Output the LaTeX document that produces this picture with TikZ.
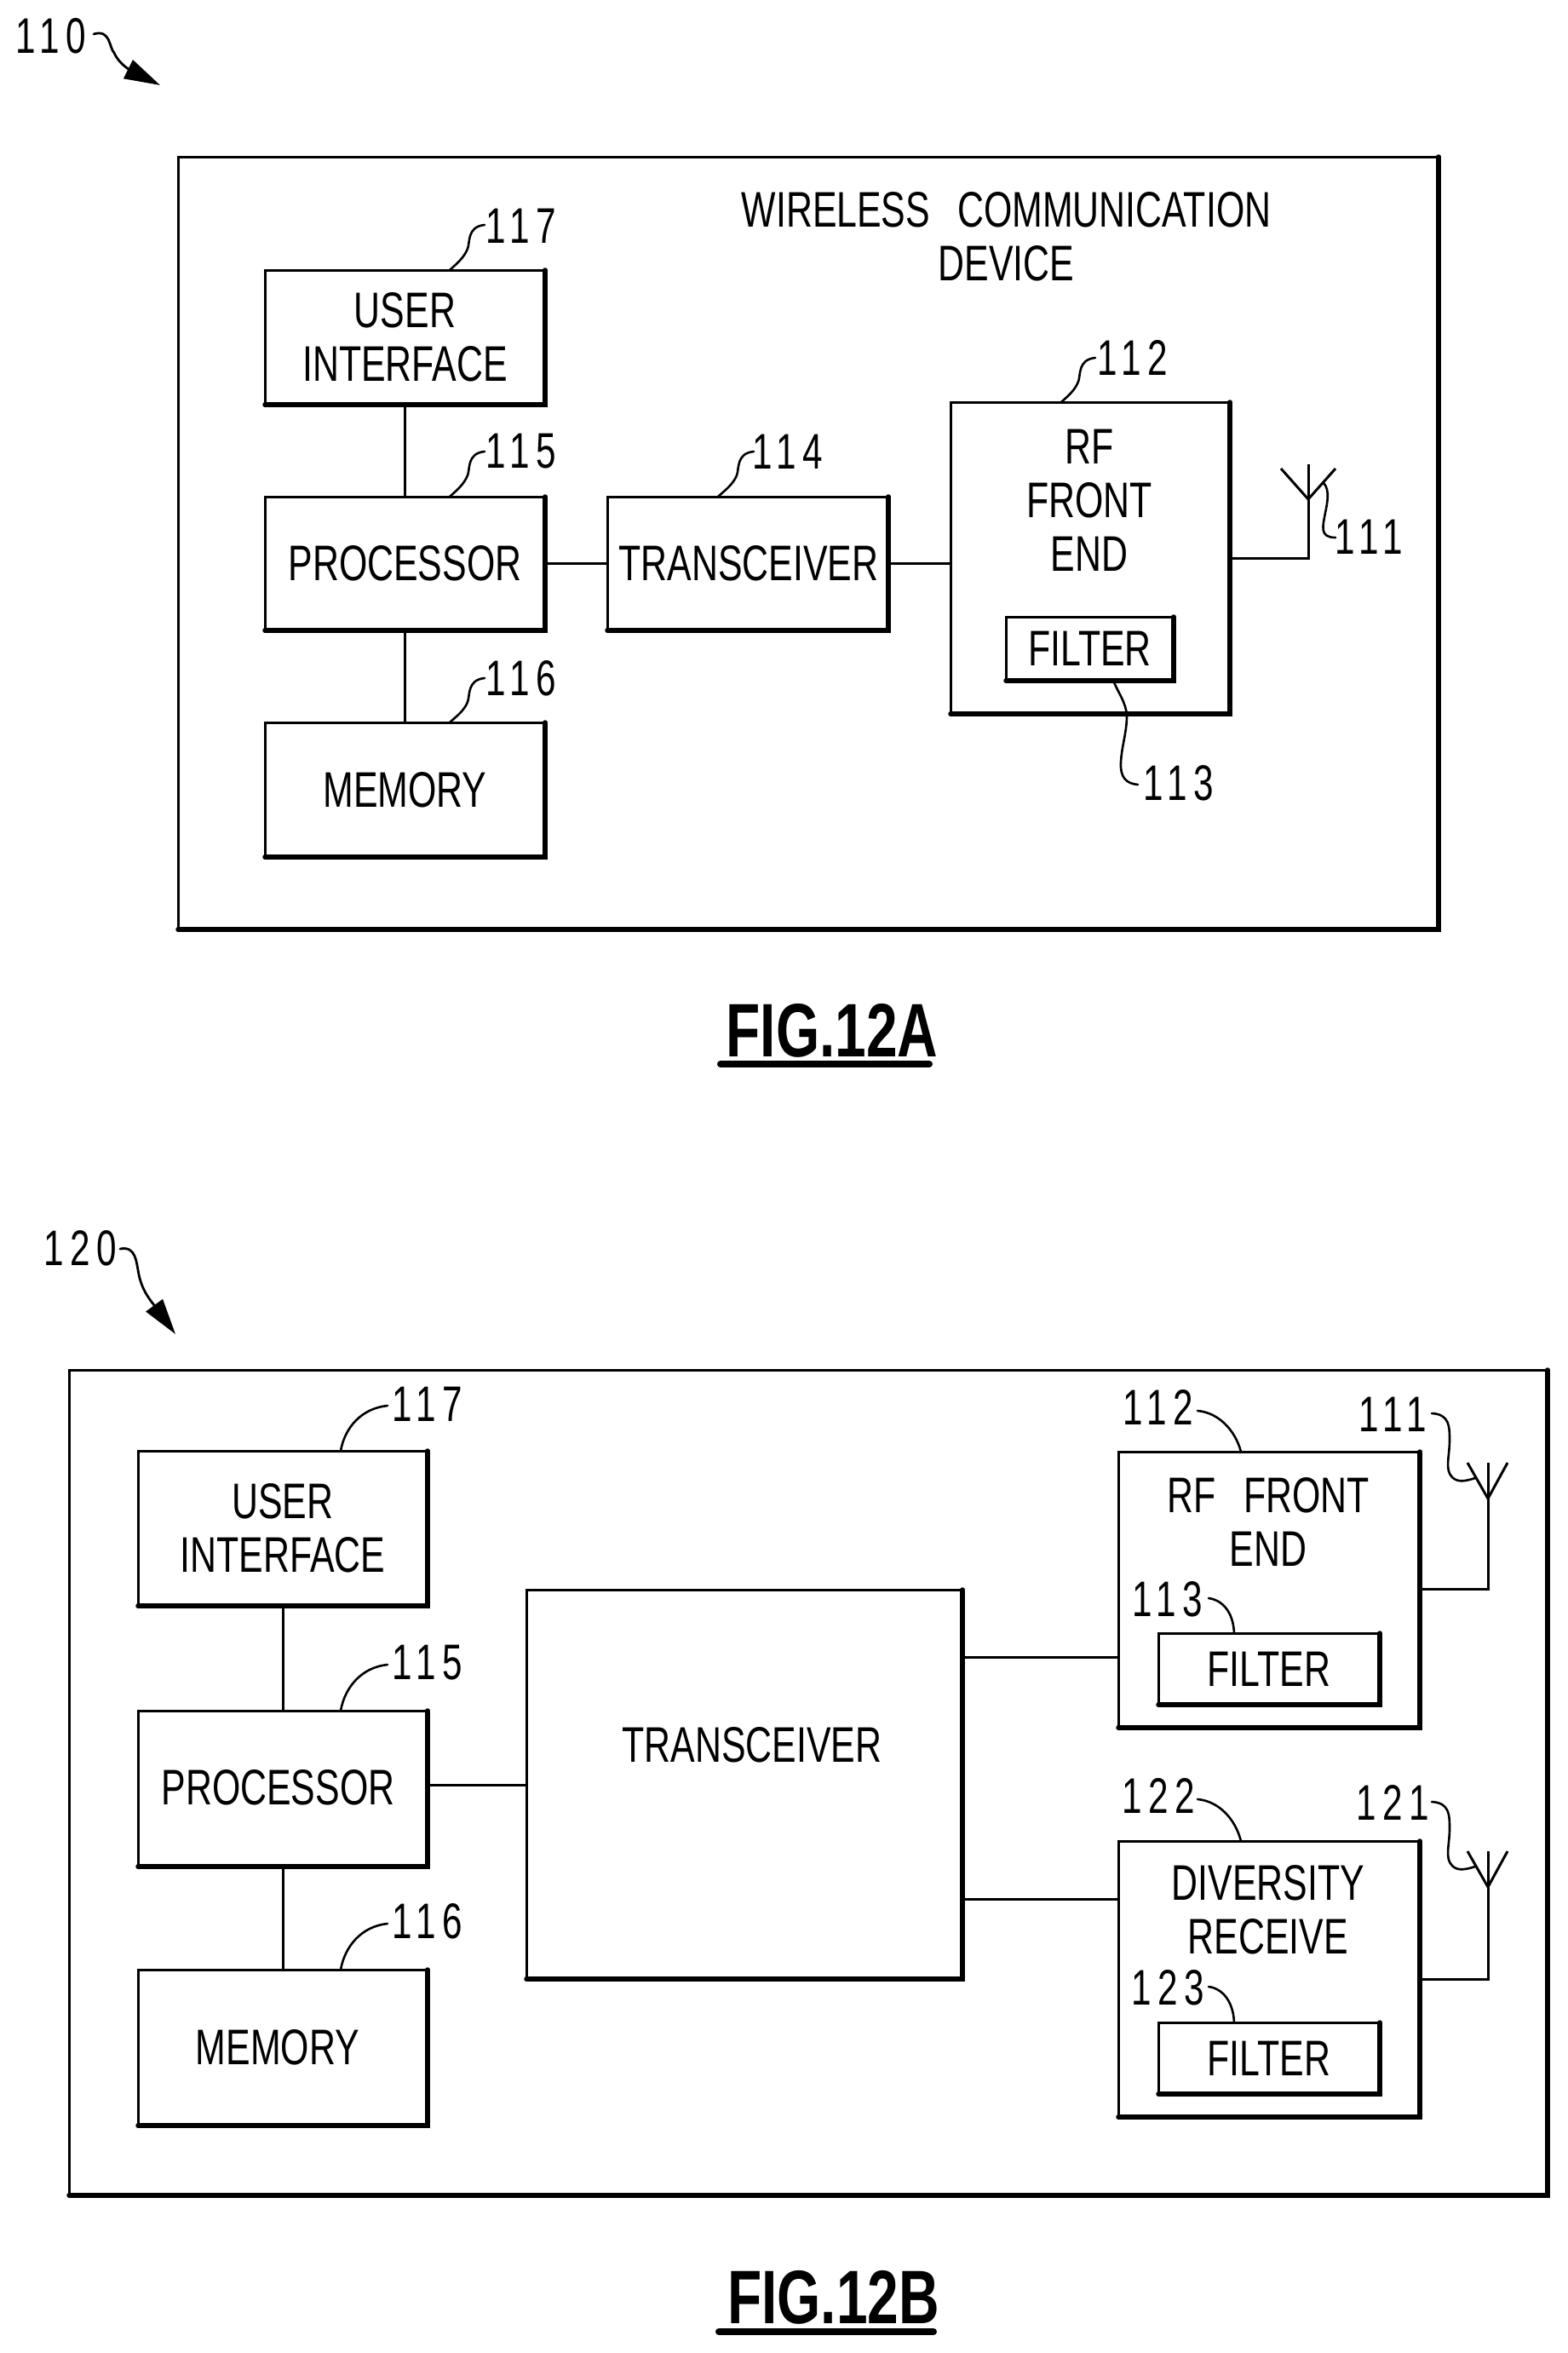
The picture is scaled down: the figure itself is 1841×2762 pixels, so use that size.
\documentclass[tikz,border=0pt]{standalone}
\usepackage{fontspec}
\usetikzlibrary{arrows.meta}
\setmainfont[FakeStretch=0.73]{Liberation Sans}
\newfontfamily\digfont[FakeStretch=0.72,LetterSpace=13]{Liberation Sans}
\newfontfamily\figfont[FakeStretch=0.74]{Liberation Sans Bold}
\tikzset{
  txt/.style={inner sep=0pt,outer sep=0pt,align=center,font=\fontsize{58.7}{63}\selectfont},
  num/.style={inner sep=0pt,outer sep=0pt,font=\digfont\fontsize{58.7}{63}\selectfont},
  boxn/.style={draw=black,line width=3pt,fill=none,inner sep=0pt,outer sep=0pt,align=center,font=\fontsize{58.7}{63}\selectfont},
  edgeline/.style={line width=5.5pt,line cap=round,line join=miter},
  wire/.style={line width=3pt},
  lead/.style={line width=2.6pt,line cap=round},
  pointer/.style={line width=2.8pt,line cap=round,-{Triangle[length=42pt,width=24pt]}},
  antline/.style={line width=3pt,line join=miter},
  figt/.style={inner sep=0pt,outer sep=0pt,font=\figfont\fontsize{89}{90}\selectfont},
  uline/.style={line width=8pt,line cap=round}
}
\newcommand{\bx}[6]{%
  \pgfmathsetmacro{\cxx}{(#2+#4)/2}\pgfmathsetmacro{\cyy}{(#3+#5)/2}%
  \pgfmathsetmacro{\wdd}{#4-#2}\pgfmathsetmacro{\htt}{#5-#3}%
  \node[boxn,minimum width=\wdd pt,minimum height=\htt pt] (#1) at (\cxx,\cyy) {#6};%
  \draw[edgeline] (#1.north east) -- (#1.south east) -- (#1.south west);%
}
\begin{document}
\begin{tikzpicture}[x=1pt,y=-1pt]
\useasboundingbox (0,0) rectangle (1841,2762);
% ---------- FIG 12A ----------
\node[num] (l110) at (60,42) {110};
\coordinate (p110) at (188,100);
\draw[pointer] (110,40) .. controls (130,34) and (128,56) .. (134,62) .. controls (141,78) and (160,86) .. (p110);
\bx{outerA}{209}{184}{1689}{1091}{}
\node[txt] (title) at (1181.5,277.5) {WIRELESS\hspace{32pt}COMMUNICATION\\DEVICE};
\bx{uiA}{311}{317}{640}{475}{USER\\INTERFACE}
\bx{prA}{311}{583}{640}{740}{PROCESSOR}
\bx{meA}{311}{848}{640}{1006}{MEMORY}
\bx{trA}{713}{583}{1043}{740}{}
\node[txt] (trAt) at (879,661.5) {TRANSCEIVER};
\bx{rfA}{1116}{472}{1444}{838}{}
\node[txt] (rfAt) at (1279,587) {RF\\FRONT\\END};
\bx{fiA}{1181}{724}{1378}{799}{FILTER}
\draw[wire] (uiA.south) -- (prA.north);
\draw[wire] (prA.south) -- (meA.north);
\coordinate (jA) at (713,661);
\draw[wire] (prA.east |- jA) -- (jA);
\coordinate (jA2) at (1043,661);
\draw[wire] (jA2) -- (jA2 -| rfA.west);
\coordinate (antA) at (1536,655);
\coordinate (antAj) at (1536,586);
\draw[antline] (rfA.east |- antA) -- (antA) -- (1536,545);
\draw[antline] (1504,550) -- (antAj) -- (1568,550);
\node[num] (l117a) at (612,265.5) {117};
\draw[lead] (569,264) .. controls (548,266) and (552,285) .. (549,292) .. controls (545,302) and (537,309) .. (528,317);
\node[num] (l115a) at (612,530) {115};
\draw[lead] (569,530) .. controls (548,532) and (552,551) .. (549,558) .. controls (545,568) and (537,575) .. (528,583);
\node[num] (l116a) at (612,796) {116};
\draw[lead] (569,796) .. controls (548,798) and (552,817) .. (549,824) .. controls (545,834) and (537,840) .. (528,848);
\node[num] (l114a) at (925,530) {114};
\draw[lead] (885,530) .. controls (864,532) and (868,551) .. (865,558) .. controls (861,568) and (852,575) .. (843,583);
\node[num] (l112a) at (1330,420) {112};
\draw[lead] (1286,420) .. controls (1265,422) and (1269,441) .. (1266,448) .. controls (1262,458) and (1255,464) .. (1246,472);
\node[num] (l113a) at (1384,919.5) {113};
\draw[lead] (1308,801) .. controls (1314,815) and (1322,825) .. (1323,840) .. controls (1323,860) and (1317,875) .. (1316,895) .. controls (1315,912) and (1322,920) .. (1336,921);
\node[num] (l111a) at (1607,630) {111};
\draw[lead] (1554,567) .. controls (1562,575) and (1558,592) .. (1556,602) .. controls (1553,618) and (1549,631) .. (1568,631);
\node[figt] (figA) at (977,1210) {FIG.12A};
\draw[uline] (846,1249) -- (1091,1249);
% ---------- FIG 12B ----------
\node[num] (l120) at (94,1465) {120};
\coordinate (p120) at (206,1566);
\draw[pointer] (141,1466) .. controls (160,1462) and (160,1482) .. (163,1496) .. controls (167,1516) and (178,1528) .. (p120);
\bx{outerB}{81}{1608}{1817}{2577}{}
\bx{uiB}{162}{1703}{502}{1885}{USER\\INTERFACE}
\bx{prB}{162}{2008}{502}{2191}{}
\node[txt] (prBt) at (326.5,2098) {PROCESSOR};
\bx{meB}{162}{2312}{502}{2495}{}
\node[txt] (meBt) at (326,2403) {MEMORY};
\bx{trB}{618}{1866}{1130}{2323}{}
\node[txt] (trBt) at (883,2048) {TRANSCEIVER};
\bx{rfB}{1313}{1704}{1667}{2028}{}
\node[txt] (rfBt) at (1489,1786) {RF\hspace{33pt}FRONT\\END};
\bx{fiB}{1360}{1917}{1620}{2001}{FILTER}
\bx{diB}{1313}{2161}{1667}{2485}{}
\node[txt] (diBt) at (1489,2242) {DIVERSITY\\RECEIVE};
\bx{fiC}{1360}{2374}{1620}{2458}{FILTER}
\draw[wire] (uiB.south) -- (prB.north);
\draw[wire] (prB.south) -- (meB.north);
\coordinate (jB) at (618,2095);
\draw[wire] (prB.east |- jB) -- (jB);
\coordinate (jC) at (1130,1945.5);
\draw[wire] (jC) -- (rfB.west |- jC);
\coordinate (jD) at (1130,2229);
\draw[wire] (jD) -- (diB.west |- jD);
\coordinate (antB) at (1747,1865);
\coordinate (antC) at (1747,2323);
\draw[antline] (rfB.east |- antB) -- (antB) -- (1747,1717);
\draw[antline] (1723,1717) -- (1747,1759) -- (1770,1717);
\draw[antline] (diB.east |- antC) -- (antC) -- (1747,2173);
\draw[antline] (1723,2173) -- (1747,2215) -- (1770,2173);
\node[num] (l117b) at (502,1648) {117};
\draw[lead] (455,1650) .. controls (425,1653) and (405,1675) .. (400,1703);
\node[num] (l115b) at (502,1952) {115};
\draw[lead] (455,1954) .. controls (425,1957) and (405,1980) .. (400,2008);
\node[num] (l116b) at (502,2255) {116};
\draw[lead] (455,2258) .. controls (425,2261) and (405,2284) .. (400,2312);
\node[num] (l112b) at (1360,1652) {112};
\draw[lead] (1406,1656) .. controls (1430,1658) and (1450,1678) .. (1457,1704);
\node[num] (l122b) at (1360,2108) {122};
\draw[lead] (1406,2112) .. controls (1430,2114) and (1450,2134) .. (1457,2161);
\node[num] (l113b) at (1371,1877) {113};
\draw[lead] (1419,1876) .. controls (1435,1878) and (1448,1892) .. (1449,1917);
\node[num] (l123b) at (1371,2333) {123};
\draw[lead] (1419,2332) .. controls (1435,2334) and (1448,2349) .. (1449,2374);
\node[num] (l111b) at (1635,1660) {111};
\draw[lead] (1681,1659) .. controls (1702,1660) and (1702,1675) .. (1702,1690) .. controls (1702,1710) and (1696,1725) .. (1705,1734) .. controls (1712,1741) and (1722,1738) .. (1732,1735);
\node[num] (l121b) at (1635,2116) {121};
\draw[lead] (1681,2115) .. controls (1702,2116) and (1702,2131) .. (1702,2146) .. controls (1702,2166) and (1696,2181) .. (1705,2190) .. controls (1712,2197) and (1722,2194) .. (1732,2191);
\node[figt] (figB) at (978.5,2697) {FIG.12B};
\draw[uline] (844,2737) -- (1096,2737);
\end{tikzpicture}
\end{document}
